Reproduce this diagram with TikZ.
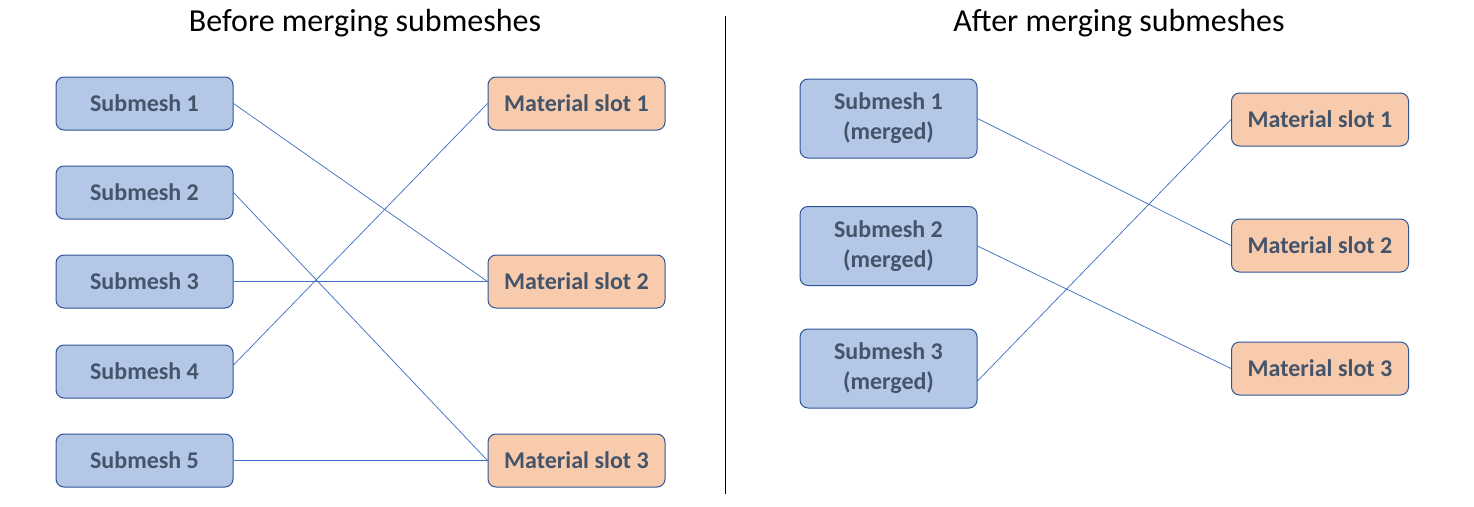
\documentclass[tikz,border=0pt]{standalone}
\usepackage{fontspec}
\setmainfont{Carlito}
\definecolor{meshfill}{HTML}{B4C7E7}
\definecolor{slotfill}{HTML}{F8CBAD}
\definecolor{boxline}{HTML}{2F5597}
\definecolor{boxtext}{HTML}{44546A}
\definecolor{linkblue}{HTML}{4472C4}
\begin{document}
\begin{tikzpicture}[x=1pt,y=-1pt,
    box/.style={rounded corners=8pt,draw=boxline,line width=1pt,minimum width=177pt,
      inner sep=0pt,align=center,text=boxtext,font=\fontsize{24}{30}\selectfont\bfseries},
    submesh/.style={box,fill=meshfill,minimum height=53pt},
    merged/.style={submesh,minimum height=79pt},
    slot/.style={box,fill=slotfill,minimum height=53pt},
    link/.style={draw=linkblue,line width=0.75pt},
    title/.style={anchor=base,font=\fontsize{32}{38}\selectfont}]
  \useasboundingbox (0,0) rectangle (1474,506);
  \node[title] (tbefore) at (365,31) {Before merging submeshes};
  \node[title] (tafter) at (1119,31) {After merging submeshes};
  \draw[line width=0.75pt] (725,16) -- (725,494);
  % before
  \foreach \i/\ypos in {1/103.5,2/192.5,3/281.5,4/371.5,5/460.5}
    \node[submesh] (s\i) at (144.5,\ypos) {Submesh \i};
  \foreach \i/\ypos in {1/103.5,2/281.5,3/460.5}
    \node[slot] (m\i) at (576.5,\ypos) {Material slot \i};
  \draw[link] (s1.east) -- (m2.west);
  \draw[link] (s2.east) -- (m3.west);
  \draw[link] (s3.east) -- (m2.west);
  \draw[link] ([yshift=6.5pt]s4.east) -- (m1.west);
  \draw[link] (s5.east) -- (m3.west);
  % after
  \foreach \i/\ypos in {1/118.5,2/246,3/368.5}
    \node[merged] (ms\i) at (888.5,\ypos) {Submesh \i\\(merged)};
  \foreach \i/\ypos in {1/119.5,2/245.5,3/368.5}
    \node[slot] (mm\i) at (1320,\ypos) {Material slot \i};
  \draw[link] (ms1.east) -- (mm2.west);
  \draw[link] (ms2.east) -- (mm3.west);
  \draw[link] ([yshift=-12.5pt]ms3.east) -- (mm1.west);
\end{tikzpicture}
\end{document}
